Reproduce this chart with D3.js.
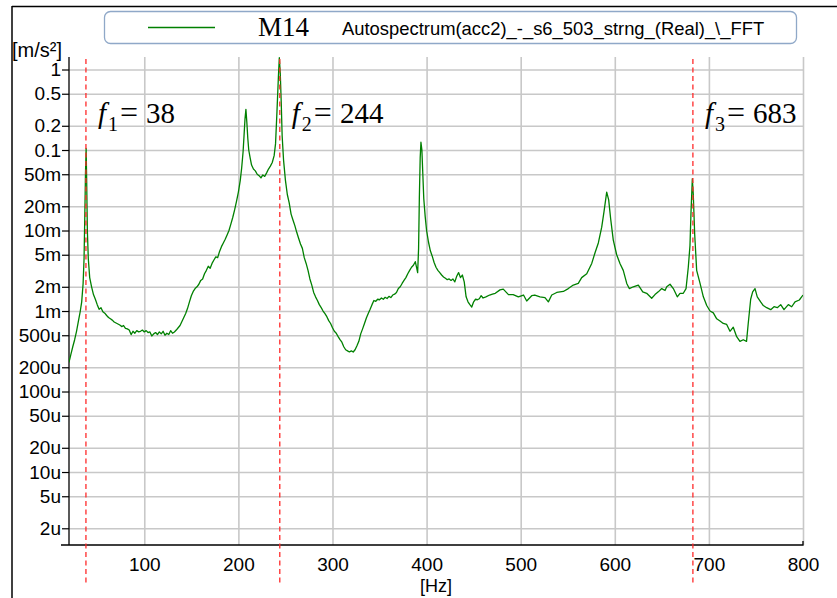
<!DOCTYPE html>
<html>
<head>
<meta charset="utf-8">
<script src="https://cdn.jsdelivr.net/npm/d3@7/dist/d3.min.js"></script>
<style>
  html, body { margin: 0; padding: 0; background: #fff; }
  svg { display: block; }
  .tick text { font-family: "Liberation Sans", Arial, sans-serif; fill: #000; }
</style>
</head>
<body>
<svg id="chart" width="837" height="598"></svg>
<script>
// Autospectrum of acc2, frequency in Hz, amplitude in m/s^2
const freqHz = [
  20, 22, 24, 26, 28, 30, 32, 33.5, 35, 36, 36.8, 37.5, 38.2, 38.8, 39.5, 40.5, 42, 44, 46, 48,
  50, 52, 54, 56, 58, 60, 62, 64, 66, 68, 70, 72, 74, 76, 78, 80, 82, 84, 86, 88,
  90, 92, 94, 96, 98, 100, 102, 104, 106, 108, 110, 112, 114, 116, 118, 120, 122, 124, 126, 128,
  130, 132, 134, 136, 138, 140, 142, 144, 146, 148, 150, 152, 154, 156, 158, 160, 162, 164, 166, 168,
  170, 172, 174, 176, 178, 180, 182, 184, 186, 188, 190, 192, 194, 196, 198, 200, 202, 203.5, 205, 206,
  207, 208, 209, 210, 211, 212.5, 214, 216, 218, 220, 222, 224, 226, 228, 230, 232, 234, 236, 238, 239.5,
  241, 242.5, 243.5, 244.5, 245.5, 246.5, 248, 250, 252, 254, 256, 258, 260, 262, 264, 266, 268, 270, 272, 274,
  276, 278, 280, 282, 284, 286, 288, 290, 292, 294, 296, 298, 300, 302, 304, 306, 308, 310, 312, 314,
  316, 318, 320, 322, 324, 326, 328, 330, 332, 334, 336, 338, 340, 342, 344, 346, 348, 350, 352, 354,
  356, 358, 360, 362, 364, 366, 368, 370, 372, 374, 376, 378, 380, 382, 384, 386, 388, 389.5, 390.5, 391.5,
  392.3, 393.2, 394, 395, 396, 397, 398.5, 400, 402, 404, 406, 408, 410, 412, 414, 416, 418, 420, 422, 424,
  426, 428, 430, 432, 434, 436, 438, 440, 442, 444, 446, 448, 450, 452, 454, 456, 458, 460, 463, 467,
  470, 473, 478, 481.5, 487, 492, 497.5, 503, 506.4, 511.7, 515, 520.5, 525.8, 529.4, 533, 538.3, 545.3, 550.6, 555.9, 561.2,
  564.8, 570.2, 575.5, 579, 582.5, 586.1, 588.5, 591.4, 593.5, 595.6, 598.4, 602, 605.5, 609, 612.7, 615.4, 619.7, 625, 629.7, 633.9,
  639.2, 642.7, 646.2, 649.9, 653.4, 655.2, 658.7, 662.2, 666.4, 669.3, 672.8, 675.7, 678.1, 679.9, 681, 682.4, 683.4, 684.9, 687, 690.6,
  694.1, 697.7, 701.2, 704.7, 708.3, 711.8, 715.3, 718.9, 722.4, 725.9, 729.5, 733, 736.5, 740, 741.8, 744.4, 746.5, 749, 751.4, 755,
  757.8, 761.4, 765.7, 769.2, 772.7, 776.3, 779.8, 784.4, 788, 791.5, 796.1, 800
];
const amplitude = [
  2.3e-4, 2.9e-4, 3.6e-4, 4.4e-4, 5.6e-4, 7.5e-4, 1.0e-3, 1.3e-3, 2.2e-3, 4.5e-3, 1.5e-2, 5.0e-2, 0.105, 4.0e-2, 1.0e-2, 4.5e-3, 2.6e-3, 2.0e-3, 1.6e-3, 1.4e-3,
  1.2e-3, 1.05e-3, 1.1e-3, 9.8e-4, 9.4e-4, 8.8e-4, 8.3e-4, 8.0e-4, 7.7e-4, 7.3e-4, 7.1e-4, 6.9e-4, 6.7e-4, 6.4e-4, 6.6e-4, 6.1e-4, 6.0e-4, 5.8e-4, 5.1e-4, 5.6e-4,
  5.3e-4, 5.7e-4, 5.5e-4, 5.6e-4, 5.8e-4, 5.5e-4, 5.7e-4, 5.4e-4, 5.5e-4, 4.9e-4, 5.2e-4, 5.4e-4, 5.1e-4, 5.5e-4, 5.2e-4, 5.6e-4, 5.0e-4, 5.3e-4, 5.1e-4, 5.7e-4,
  5.3e-4, 5.5e-4, 5.8e-4, 6.2e-4, 6.6e-4, 7.4e-4, 8.3e-4, 9.3e-4, 1.08e-3, 1.3e-3, 1.55e-3, 1.75e-3, 1.9e-3, 2.0e-3, 2.15e-3, 2.4e-3, 2.5e-3, 2.9e-3, 3.2e-3, 3.6e-3,
  3.4e-3, 3.9e-3, 4.3e-3, 4.7e-3, 4.6e-3, 5.5e-3, 6.3e-3, 7.0e-3, 7.8e-3, 8.8e-3, 1.0e-2, 1.2e-2, 1.45e-2, 1.8e-2, 2.3e-2, 3.0e-2, 4.2e-2, 6.0e-2, 9.5e-2, 0.15,
  0.24, 0.32, 0.22, 0.14, 0.10, 8.0e-2, 6.5e-2, 5.8e-2, 5.5e-2, 5.0e-2, 4.8e-2, 4.5e-2, 4.9e-2, 4.7e-2, 5.2e-2, 5.8e-2, 6.3e-2, 7.0e-2, 8.5e-2, 0.12,
  0.30, 0.80, 1.4, 0.90, 0.40, 0.15, 7.5e-2, 4.2e-2, 2.8e-2, 2.2e-2, 1.6e-2, 1.35e-2, 1.15e-2, 9.5e-3, 8.0e-3, 6.8e-3, 6.0e-3, 4.6e-3, 3.9e-3, 3.2e-3,
  2.5e-3, 2.1e-3, 1.7e-3, 1.5e-3, 1.35e-3, 1.2e-3, 1.1e-3, 1.0e-3, 9.3e-4, 8.5e-4, 7.6e-4, 7.0e-4, 6.2e-4, 5.6e-4, 5.3e-4, 4.8e-4, 4.4e-4, 4.1e-4, 3.6e-4, 3.3e-4,
  3.2e-4, 3.1e-4, 3.2e-4, 3.1e-4, 3.3e-4, 3.7e-4, 4.2e-4, 5.2e-4, 6.0e-4, 7.0e-4, 8.2e-4, 9.3e-4, 1.05e-3, 1.2e-3, 1.35e-3, 1.32e-3, 1.4e-3, 1.38e-3, 1.45e-3, 1.4e-3,
  1.48e-3, 1.43e-3, 1.52e-3, 1.47e-3, 1.58e-3, 1.62e-3, 1.7e-3, 1.9e-3, 2.0e-3, 2.2e-3, 2.4e-3, 2.6e-3, 2.9e-3, 3.2e-3, 3.5e-3, 3.7e-3, 4.1e-3, 3.4e-3, 3.0e-3, 6.0e-3,
  2.5e-2, 8.0e-2, 0.125, 0.10, 5.0e-2, 2.5e-2, 1.5e-2, 1.0e-2, 7.2e-3, 5.6e-3, 4.8e-3, 4.0e-3, 3.5e-3, 3.2e-3, 3.0e-3, 2.8e-3, 2.65e-3, 2.55e-3, 2.45e-3, 2.5e-3,
  2.4e-3, 2.5e-3, 2.3e-3, 2.7e-3, 3.0e-3, 2.6e-3, 2.8e-3, 2.3e-3, 1.5e-3, 1.3e-3, 1.2e-3, 1.12e-3, 1.3e-3, 1.4e-3, 1.38e-3, 1.42e-3, 1.55e-3, 1.45e-3, 1.5e-3, 1.58e-3,
  1.62e-3, 1.66e-3, 1.83e-3, 1.87e-3, 1.6e-3, 1.6e-3, 1.5e-3, 1.58e-3, 1.33e-3, 1.55e-3, 1.58e-3, 1.5e-3, 1.47e-3, 1.3e-3, 1.58e-3, 1.7e-3, 1.75e-3, 1.9e-3, 2.1e-3, 2.2e-3,
  2.6e-3, 2.9e-3, 3.9e-3, 5.3e-3, 7.0e-3, 1.1e-2, 1.7e-2, 3.0e-2, 2.4e-2, 1.4e-2, 7.6e-3, 5.0e-3, 3.9e-3, 3.2e-3, 2.2e-3, 1.9e-3, 2.0e-3, 2.1e-3, 1.73e-3, 1.66e-3,
  1.44e-3, 1.6e-3, 1.73e-3, 1.9e-3, 1.8e-3, 2.0e-3, 2.15e-3, 1.9e-3, 1.5e-3, 1.66e-3, 1.66e-3, 1.9e-3, 3.5e-3, 6.5e-3, 1.7e-2, 4.4e-2, 2.8e-2, 9.0e-3, 3.2e-3, 2.2e-3,
  1.5e-3, 1.17e-3, 1.0e-3, 9.5e-4, 8.0e-4, 7.5e-4, 7.0e-4, 6.8e-4, 5.6e-4, 6.3e-4, 4.8e-4, 4.2e-4, 4.4e-4, 4.2e-4, 7.0e-4, 1.4e-3, 1.73e-3, 1.9e-3, 1.5e-3, 1.3e-3,
  1.17e-3, 1.1e-3, 1.04e-3, 1.13e-3, 1.1e-3, 1.2e-3, 1.04e-3, 1.2e-3, 1.13e-3, 1.3e-3, 1.37e-3, 1.58e-3
];

// Axis ticks
const xTickValues = [100, 200, 300, 400, 500, 600, 700, 800];
const yTickValues = [1, 0.5, 0.2, 0.1, 0.05, 0.02, 0.01, 0.005, 0.002, 0.001,
                     5e-4, 2e-4, 1e-4, 5e-5, 2e-5, 1e-5, 5e-6, 2e-6];
const yTickLabels = ["1", "0.5", "0.2", "0.1", "50m", "20m", "10m", "5m", "2m", "1m",
                     "500u", "200u", "100u", "50u", "20u", "10u", "5u", "2u"];

// Marked resonance frequencies
const peakFreqs = [38, 244, 683];
const peakIndex = ["1", "2", "3"];

const legendMarker = "M14";
const legendName = "Autospectrum(acc2)_-_s6_503_strng_(Real)_\\_FFT";

const svg = d3.select("#chart");
const W = 837, H = 598;
const plot = { left: 69, right: 803, top: 57, bottom: 545 };
const sans = "Liberation Sans, Arial, sans-serif";

svg.append("rect").attr("width", W).attr("height", H).attr("fill", "#fff");

const x = d3.scaleLinear().domain([20, 800]).range([plot.left, plot.right]);
const y = d3.scaleLog().domain([1.24e-6, 1.43]).range([plot.bottom, plot.top]);

// outer frame (top and left edges)
svg.append("line").attr("x1", 12).attr("x2", W).attr("y1", 6.5).attr("y2", 6.5)
  .attr("stroke", "#000").attr("stroke-width", 1.5);
svg.append("line").attr("x1", 12).attr("x2", 12).attr("y1", 6).attr("y2", H)
  .attr("stroke", "#000").attr("stroke-width", 1.5);

// grid
const grid = svg.append("g").attr("class", "grid");
grid.append("g")
  .attr("transform", `translate(${plot.left},0)`)
  .call(d3.axisLeft(y).tickValues(yTickValues).tickSize(-(plot.right - plot.left)).tickFormat(""))
  .call(g => g.select(".domain").remove())
  .call(g => g.selectAll("line").attr("stroke", "#c8c8c8").attr("stroke-width", 1.6));
grid.append("g")
  .attr("transform", `translate(0,${plot.bottom})`)
  .call(d3.axisBottom(x).tickValues(xTickValues).tickSize(-(plot.bottom - plot.top)).tickFormat(""))
  .call(g => g.select(".domain").remove())
  .call(g => g.selectAll("line").attr("stroke", "#c8c8c8").attr("stroke-width", 1.6));

// y axis
svg.append("g")
  .attr("transform", `translate(${plot.left},0)`)
  .call(d3.axisLeft(y).tickValues(yTickValues).tickSize(7).tickPadding(1)
    .tickFormat((d, i) => yTickLabels[i]))
  .call(g => g.select(".domain").attr("d", `M0,${plot.top}V${plot.bottom}`).attr("stroke-width", 1.3))
  .call(g => g.selectAll(".tick line").attr("stroke-width", 1.2))
  .call(g => g.selectAll(".tick text").attr("font-size", 19));

// x axis
svg.append("g")
  .attr("transform", `translate(0,${plot.bottom})`)
  .call(d3.axisBottom(x).tickValues(xTickValues).tickSize(0).tickPadding(13))
  .call(g => g.select(".domain").attr("d", `M${plot.left - 8},0H${plot.right}V-4`).attr("stroke-width", 1.3))
  .call(g => g.selectAll(".tick text").attr("font-size", 19));

// axis units
svg.append("text").attr("x", 12).attr("y", 57)
  .attr("font-family", sans).attr("font-size", 20)
  .text("[m/s²]");
svg.append("text").attr("x", (plot.left + plot.right) / 2).attr("y", 592).attr("text-anchor", "middle")
  .attr("font-family", sans).attr("font-size", 18)
  .text("[Hz]");

// spectrum
const pts = freqHz.map((f, i) => [f, amplitude[i]]);
svg.append("clipPath").attr("id", "plotclip").append("rect")
  .attr("x", plot.left).attr("y", plot.top - 2)
  .attr("width", plot.right - plot.left).attr("height", plot.bottom - plot.top + 2);
svg.append("path")
  .datum(pts)
  .attr("clip-path", "url(#plotclip)")
  .attr("fill", "none")
  .attr("stroke", "#008000")
  .attr("stroke-width", 1.3)
  .attr("stroke-linejoin", "round")
  .attr("d", d3.line().x(d => x(d[0])).y(d => y(d[1])));

// resonance markers
svg.selectAll(".peak").data(peakFreqs).join("line")
  .attr("class", "peak")
  .attr("x1", d => x(d)).attr("x2", d => x(d))
  .attr("y1", plot.top + 2).attr("y2", 585)
  .attr("stroke", "#ff2a2a").attr("stroke-width", 1.3)
  .attr("stroke-dasharray", "5,3.5");

const lbl = svg.selectAll(".peaklabel").data(peakFreqs).join("text")
  .attr("class", "peaklabel")
  .attr("x", d => x(d) + 12)
  .attr("y", 123)
  .attr("font-family", "Liberation Serif, 'DejaVu Serif', serif")
  .attr("font-size", 29);
lbl.append("tspan").attr("font-style", "italic").text("f");
lbl.append("tspan").attr("font-size", 20).attr("dy", 8).attr("dx", 2).text((d, i) => peakIndex[i]);
lbl.append("tspan").attr("dy", -8).attr("dx", 2).attr("font-size", 32).text("=");
lbl.append("tspan").attr("dx", 8).text(d => d);

// legend
const lg = svg.append("g");
lg.append("rect").attr("x", 104.5).attr("y", 11.5).attr("width", 692).attr("height", 32)
  .attr("rx", 6).attr("fill", "#fff").attr("stroke", "#8fa8c8").attr("stroke-width", 1.3);
lg.append("line").attr("x1", 148).attr("x2", 215).attr("y1", 27.5).attr("y2", 27.5)
  .attr("stroke", "#008000").attr("stroke-width", 1.3);
lg.append("text").attr("x", 258).attr("y", 36)
  .attr("font-family", "Liberation Serif, serif").attr("font-size", 27)
  .text(legendMarker);
lg.append("text").attr("x", 342).attr("y", 35)
  .attr("font-family", sans).attr("font-size", 18.4)
  .text(legendName);
</script>
</body>
</html>
